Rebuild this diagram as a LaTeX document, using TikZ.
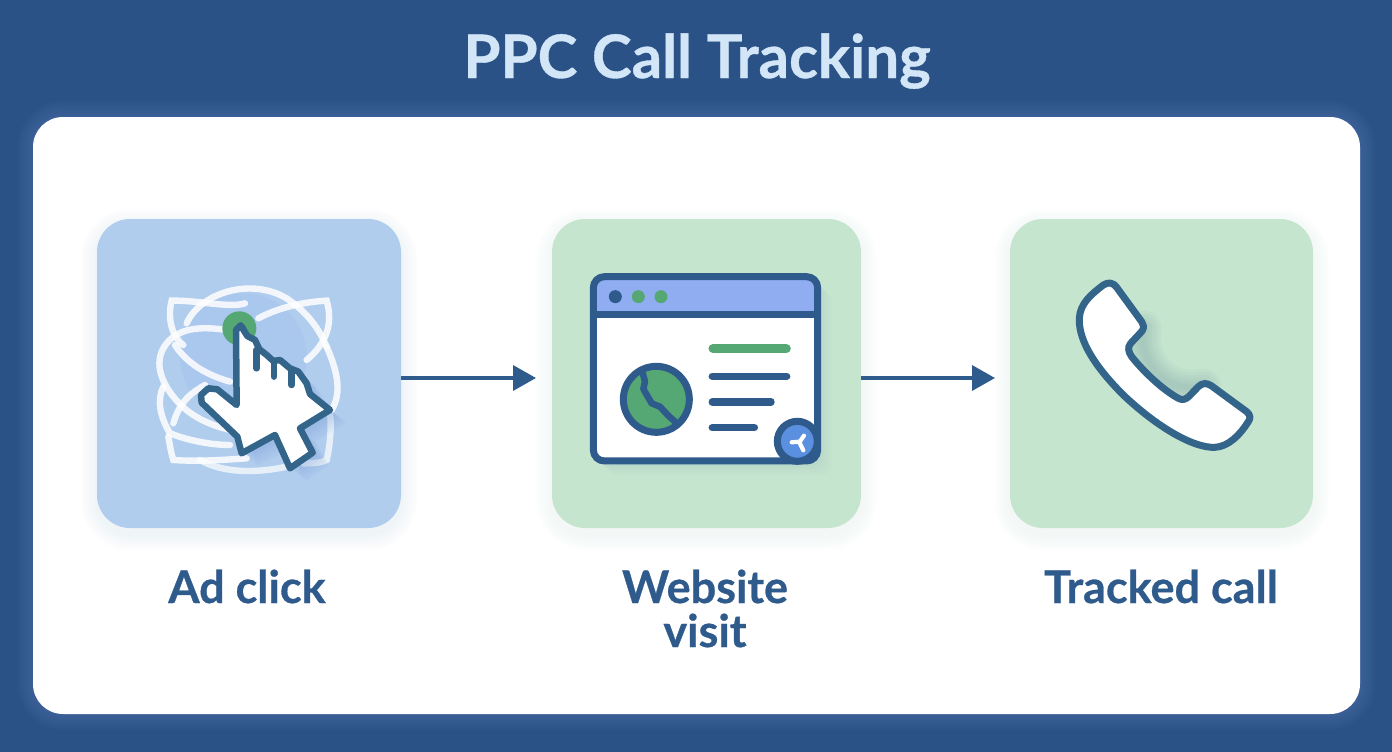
\documentclass[tikz,border=0pt]{standalone}
\usepackage{fontspec}
\setmainfont[BoldFeatures={FakeBold=0.6}]{Lato}
\usetikzlibrary{arrows.meta}
\definecolor{bgblue}{HTML}{2A5286}
\definecolor{navy}{HTML}{2F5A8C}
\definecolor{teal}{HTML}{33648A}
\definecolor{titlec}{HTML}{D3E6F8}
\definecolor{bluebox}{HTML}{B0CDEE}
\definecolor{greenbox}{HTML}{C6E5CF}
\definecolor{dotgreen}{HTML}{55A873}
\definecolor{barblue}{HTML}{8FADF0}
\definecolor{badge}{HTML}{5B8FE0}
\tikzset{
  boxa/.style={fill=bluebox,draw=none,rounded corners=33pt,inner sep=0pt},
  boxg/.style={fill=greenbox,draw=none,rounded corners=33pt,inner sep=0pt},
  lbl/.style={text=navy,font=\fontsize{45}{44}\selectfont\bfseries,align=center,inner sep=0pt},
  flow/.style={draw=navy,line width=3.6pt,-{Triangle[length=23pt,width=25pt]}},
  orbit/.style={draw=white,line width=6.4pt,line cap=round,opacity=.85},
  icon/.style={draw=navy,line width=7pt,line join=round},
  textline/.style={draw=navy,line width=7.5pt,line cap=round},
  handline/.style={draw=teal,line width=6.5pt,line cap=round,line join=round},
}
\newcommand{\softglow}[7]{% x1 y1 x2 y2 radius colour opacity
  \foreach \g in {2,4,...,16}{
    \fill[#6,opacity=#7,rounded corners=#5+\g] (#1-\g,#2-\g) rectangle (#3+\g,#4+\g);
  }}
\newcommand{\handpath}{(320,435) -- (318,210) -- (332,196) -- (352,228) -- (375,240) -- (388,268)
    -- (410,285) -- (430,303) -- (450,300) -- (480,325) -- (505,335) -- (530,370)
    -- (540,402) -- (600,450) -- (510,505) -- (548,578) -- (480,625) -- (435,525)
    -- (335,580) -- (322,530) -- (215,428) -- (213,405) -- (235,385) -- (262,388) -- cycle}
\begin{document}
\begin{tikzpicture}[x=1pt,y=-1pt]
\useasboundingbox (0,0) rectangle (1392,752);
\fill[bgblue] (0,0) rectangle (1392,752);
\softglow{33}{117}{1360}{714}{30}{barblue}{.022}
\node[fill=white,rounded corners=30pt,inner sep=0pt,minimum width=1327pt,minimum height=597pt] (card) at (696.5,415.5) {};
\node[text=titlec,font=\fontsize{60}{60}\selectfont\bfseries,inner sep=0pt,anchor=base] (title) at (697,78) {PPC Call Tracking};

% boxes with soft shadows
\softglow{97}{225}{401}{534}{33}{bluebox!80!gray}{.016}
\softglow{552}{225}{861}{534}{33}{greenbox!80!gray}{.016}
\softglow{1010}{225}{1313}{534}{33}{greenbox!80!gray}{.016}
\node[boxa,minimum width=304pt,minimum height=309pt] (adbox) at (249,373.5) {};
\node[boxg,minimum width=309pt,minimum height=309pt] (webbox) at (706.5,373.5) {};
\node[boxg,minimum width=303pt,minimum height=309pt] (callbox) at (1161.5,373.5) {};
\coordinate (rowline) at (0,378);
\coordinate (tipB) at (536,378);
\coordinate (tipC) at (995,378);
\draw[flow] (adbox.east |- rowline) -- (tipB);
\draw[flow] (webbox.east |- rowline) -- (tipC);

% labels
\node[lbl,anchor=base] (lab1) at (247,603) {Ad click};
\node[lbl,anchor=base] (lab2) at (705,647) {Website\\visit};
\node[lbl,anchor=base] (lab3) at (1161,603) {Tracked call};

% ---- cursor icon, coordinates in 3x zoom space
\begin{scope}[shift={(130,260)},x=.3333pt,y=-.3333pt]
  \fill[barblue,opacity=.18] (340,290) circle (190);
  \draw[orbit] (345,130) .. controls (300,145) and (200,120) .. (125,122) .. controls (110,180) and (130,235) .. (160,255);
  \draw[orbit] (170,190) .. controls (210,100) and (360,50) .. (470,115) .. controls (520,150) and (560,190) .. (590,260);
  \draw[orbit] (385,175) .. controls (450,140) and (530,125) .. (590,122) .. controls (610,190) and (590,250) .. (530,300);
  \draw[orbit] (290,210) .. controls (220,200) and (150,200) .. (110,250) .. controls (70,300) and (90,360) .. (130,410) .. controls (170,460) and (220,490) .. (300,510);
  \draw[orbit] (135,255) .. controls (170,310) and (230,345) .. (300,365);
  \draw[orbit] (590,260) .. controls (625,340) and (635,400) .. (605,450);
  \draw[orbit] (100,380) .. controls (80,420) and (90,470) .. (120,520) .. controls (170,540) and (240,555) .. (300,555);
  \draw[orbit] (130,490) .. controls (150,420) and (190,395) .. (225,375);
  \draw[orbit] (115,530) .. controls (120,560) and (125,585) .. (130,600) .. controls (200,605) and (280,600) .. (350,595);
  \draw[orbit,opacity=.7] (210,600) .. controls (280,640) and (380,640) .. (470,620);
  \draw[orbit,opacity=.7] (600,460) .. controls (605,500) and (600,560) .. (590,600) .. controls (570,610) and (540,610) .. (520,610);
  % hand's soft shadow
  \foreach \d in {8,16,...,48}{
    \fill[barblue!70!navy,opacity=.07,shift={(\d,\d*.8)}] \handpath;
  }
  % green dot
  \fill[dotgreen] (328,205) circle (51);
  \fill[navy] (333,208) circle (17);
  % hand
  \path[handline,fill=white] \handpath;
  \draw[handline] (380,270) -- (380,325);
  \draw[handline] (432,305) -- (432,350);
  \draw[handline] (485,330) -- (485,375);
\end{scope}

% ---- browser window
\begin{scope}[shift={(580,265)},x=.3333pt,y=-.3333pt]
  \foreach \d in {6,12,...,42}{
    \fill[teal,opacity=.012,rounded corners=11pt] (40+\d,35+\d) rectangle (713+\d,590+\d);
  }
  \fill[white,rounded corners=11pt] (40,35) rectangle (713,590);
  \fill[barblue,rounded corners=11pt] (40,35) -- (713,35) -- (713,150) -- (40,150) -- cycle;
  \draw[icon] (40,150) -- (713,150);
  \draw[icon,rounded corners=11pt] (40,35) rectangle (713,588);
  \fill[navy] (106,95) circle (19.5);
  \fill[dotgreen] (175,95) circle (19.5);
  \fill[dotgreen] (243,95) circle (19.5);
  \draw[dotgreen,line width=9pt,line cap=round] (399,251) -- (619,251);
  \draw[textline] (397,334) -- (620,334);
  \draw[textline] (397,411) -- (573,411);
  \draw[textline] (397,488) -- (523,488);
  \draw[navy,line width=7pt,fill=dotgreen] (229,403) circle (99);
  \draw[navy,line width=6.5pt,line join=round] (185,312) -- (195,350) -- (190,372) -- (215,415) -- (240,425) -- (265,452) -- (285,470) -- (300,482);
  \draw[navy,line width=7pt,fill=badge] (652,529) circle (60);
  \draw[white,line width=4.2pt,line cap=round] (635,532) -- (660,530);
  \draw[white,line width=4.2pt,line cap=round] (672,512) -- (658,532) -- (670,556);
\end{scope}

% ---- phone
\begin{scope}[shift={(1060,270)},x=.3333pt,y=-.3333pt]
  \foreach \w in {6,12,...,36}{
    \draw[teal,opacity=.035,line width=\w pt,line cap=round] (250,175) .. controls (235,280) and (310,370) .. (430,350);
  }
  \draw[draw=teal,line width=7pt,fill=white,line join=round]
    (130,45) .. controls (145,35) and (160,38) .. (170,52)
    -- (245,155) .. controls (255,172) and (250,180) .. (240,190)
    -- (212,220) .. controls (202,232) and (205,245) .. (215,260)
    .. controls (255,310) and (310,360) .. (355,385)
    .. controls (368,392) and (378,388) .. (388,378)
    -- (415,350) .. controls (428,338) and (440,338) .. (455,348)
    -- (560,425) .. controls (572,435) and (572,445) .. (565,455)
    .. controls (540,495) and (505,530) .. (465,532)
    .. controls (400,535) and (290,470) .. (190,375)
    .. controls (110,295) and (55,215) .. (58,145)
    .. controls (60,100) and (95,72) .. (130,45) -- cycle;
\end{scope}
\end{tikzpicture}
\end{document}
